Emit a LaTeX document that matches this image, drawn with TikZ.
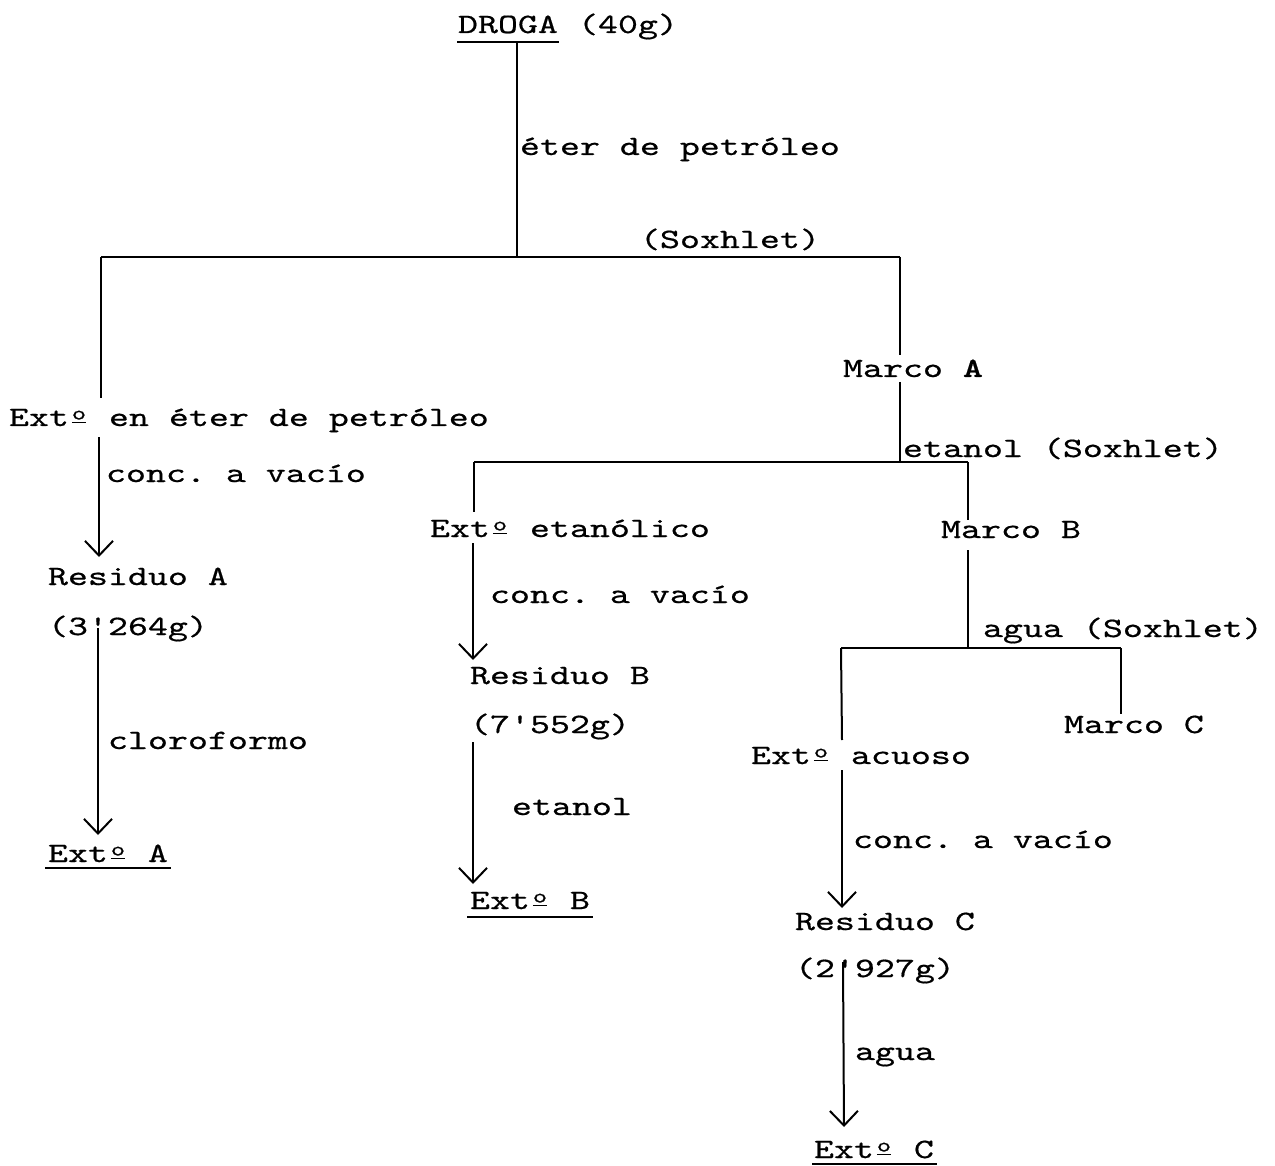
\documentclass[tikz,border=0pt]{standalone}
\usepackage{fontspec}
\setmonofont{lmmono10-regular.otf}[FakeStretch=1.36, FakeBold=0.6, BoldFont=lmmonolt10-bold.otf]
\usetikzlibrary{arrows.meta}
\newcommand\ordm{\makebox[15pt][c]{\raisebox{2pt}{\vbox{\hbox{\fontsize{15pt}{15pt}\selectfont o}\kern1.5pt\hrule height 1.3pt}}}}
\tikzset{
  txt/.style={anchor=base west, inner sep=0pt, outer sep=0pt,
              font=\fontsize{21pt}{25pt}\selectfont\ttfamily},
  ln/.style={line width=1.5pt},
  arr/.style={line width=1.5pt, -{Straight Barb[length=11pt, width=21pt, line width=1.5pt]}},
  ul/.style={line width=2.2pt}
}
\begin{document}
\begin{tikzpicture}[x=0.75pt, y=-0.75pt]
\useasboundingbox (0,0) rectangle (1275,1166);
\fill[white] (0,0) rectangle (1275,1166);

% ---------- text nodes ----------
\node[txt] (droga)   at (458,33)   {DROGA};
\node[txt] (g40)     at (578,33)   {(40g)};
\node[txt] (eter)    at (520,155)  {éter de petróleo};
\node[txt] (soxA)    at (640,248)  {(Soxhlet)};
\node[txt] (extEP)   at (9,426)    {Ext\ordm{} en éter de petróleo};
\node[txt] (conc1)   at (106,482)  {conc. a vacío};
\node[txt] (resA)    at (48,585)   {Residuo A};
\node[txt] (gA)      at (48,635)   {(3'264g)};
\node[txt] (cloro)   at (108,749)  {cloroformo};
\node[txt] (extA)    at (48,862)   {Ext\ordm{} A};
\node[txt] (marcoA)  at (843,377)  {Marco \textbf{A}};
\node[txt] (etanolS) at (903,457)  {etanol (Soxhlet)};
\node[txt] (extEt)   at (430,537)  {Ext\ordm{} etanólico};
\node[txt] (conc2)   at (490,603)  {conc. a vacío};
\node[txt] (resB)    at (470,684)  {Residuo B};
\node[txt] (gB)      at (470,733)  {(7'552g)};
\node[txt] (etanol)  at (512,815)  {etanol};
\node[txt] (extB)    at (470,909)  {Ext\ordm{} B};
\node[txt] (marcoB)  at (941,538)  {Marco B};
\node[txt] (aguaS)   at (983,637)  {agua (Soxhlet)};
\node[txt] (marcoC)  at (1064,733) {Marco C};
\node[txt] (extAc)   at (751,764)  {Ext\ordm{} acuoso};
\node[txt] (conc3)   at (853,848)  {conc. a vacío};
\node[txt] (resC)    at (795,930)  {Residuo C};
\node[txt] (gC)      at (795,977)  {(2'927g)};
\node[txt] (agua)    at (855,1060) {agua};
\node[txt] (extC)    at (814,1158) {Ext\ordm{} C};

% ---------- underlines ----------
\draw[ul] ([shift={(-1,9)}]droga.base west) -- ([shift={(1,9)}]droga.base east);
\draw[ul] ([shift={(-3,6)}]extA.base west) -- ([shift={(3,6)}]extA.base east);
\draw[ul] ([shift={(-3,8)}]extB.base west) -- ([shift={(3,8)}]extB.base east);
\draw[ul] ([shift={(-2,6)}]extC.base west) -- ([shift={(3,6)}]extC.base east);

% ---------- junction coordinates ----------
\coordinate (d0)  at (517,42);
\coordinate (j0)  at (517,257);
\coordinate (jL)  at (101,257);
\coordinate (jR)  at (900,257);
\coordinate (aL1) at (101,398);
\coordinate (aL2) at (99,437);
\coordinate (aL3) at (99,557);
\coordinate (aA1) at (98,628);
\coordinate (aA2) at (98,835);
\coordinate (mA1) at (900,355);
\coordinate (mA2) at (900,382);
\coordinate (k0)  at (900,462);
\coordinate (kL)  at (474,462);
\coordinate (kR)  at (968,462);
\coordinate (bL1) at (474,512);
\coordinate (bL2) at (473,543);
\coordinate (bL3) at (473,660);
\coordinate (bB1) at (473,742);
\coordinate (bB2) at (473,884);
\coordinate (mB1) at (968,520);
\coordinate (mB2) at (968,550);
\coordinate (m0)  at (968,648);
\coordinate (mL)  at (841,648);
\coordinate (mR)  at (1121,648);
\coordinate (mC1) at (1121,714);
\coordinate (cL1) at (842,740);
\coordinate (cL2) at (842,770);
\coordinate (cL3) at (842,908);
\coordinate (cC1) at (843,962);
\coordinate (cC2) at (844,1127);

% ---------- connectors ----------
\draw[ln] (d0) -- (j0);
\draw[ln] (jL) -- (jR);
\draw[ln] (jL) -- (aL1);
\draw[arr] (aL2) -- (aL3);
\draw[arr] (aA1) -- (aA2);
\draw[ln] (jR) -- (mA1);
\draw[ln] (mA2) -- (k0);
\draw[ln] (kL) -- (kR);
\draw[ln] (kL) -- (bL1);
\draw[arr] (bL2) -- (bL3);
\draw[arr] (bB1) -- (bB2);
\draw[ln] (kR) -- (mB1);
\draw[ln] (mB2) -- (m0);
\draw[ln] (mL) -- (mR);
\draw[ln] (mR) -- (mC1);
\draw[ln] (mL) -- (cL1);
\draw[arr] (cL2) -- (cL3);
\draw[arr] (cC1) -- (cC2);
\end{tikzpicture}
\end{document}
